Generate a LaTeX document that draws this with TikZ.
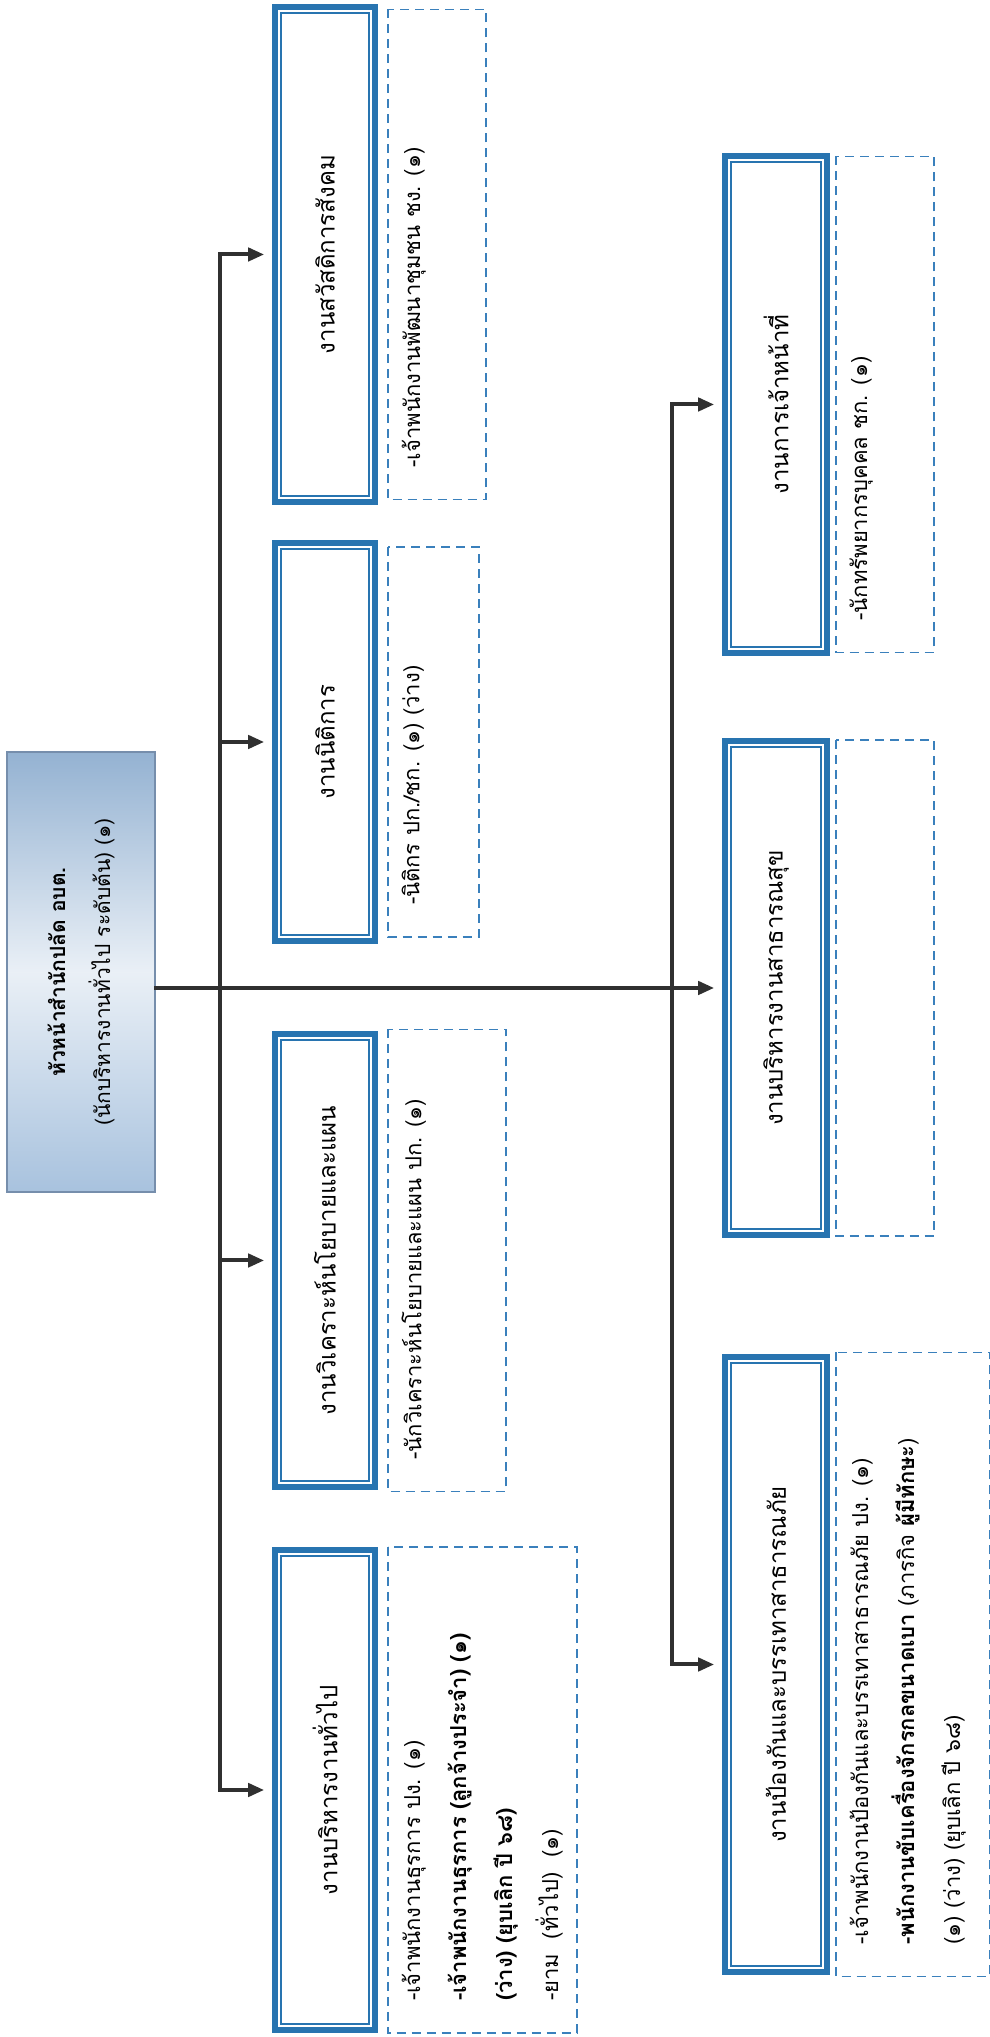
\documentclass[tikz,border=0pt]{standalone}
\usepackage{fontspec}
\setmainfont[Script=Thai]{Loma}
\usetikzlibrary{positioning,arrows.meta}

\definecolor{deptblue}{RGB}{40,116,176}
\definecolor{dashblue}{RGB}{58,128,188}
\definecolor{linkgray}{RGB}{48,48,48}
\definecolor{headtop}{RGB}{148,178,210}
\definecolor{headbot}{RGB}{168,194,222}
\definecolor{headedge}{RGB}{118,142,172}

\begin{document}
\begin{tikzpicture}[x=1pt, y=1pt, rotate=90, transform shape,
		head/.style={draw=headedge, line width=1.2pt, top color=headtop, bottom color=headbot, middle color=white!80!headtop,
			align=center, inner sep=0pt, font=\fontsize{21}{45}\selectfont},
		dept/.style={fill=white, draw=deptblue, line width=5.5pt, preaction={draw=deptblue, line width=14.5pt},
			postaction={draw=white, line width=2.5pt}, inner sep=0pt, font=\fontsize{24}{30}\selectfont},
		staff/.style 2 args={draw=dashblue, line width=1.8pt, dash pattern=on 9pt off 6pt, inner xsep=32pt, inner ysep=14pt,
			minimum width=#1pt, minimum height=#2pt, font=\fontsize{22}{46}\selectfont,
			execute at begin node={\begin{minipage}[c][\dimexpr#2pt-28pt\relax][t]{\dimexpr#1pt-64pt\relax}\raggedright},
			execute at end node={\end{minipage}}},
		link/.style={draw=linkgray, line width=4pt, line cap=rect},
		arr/.style={link, -{Triangle[length=16pt,width=13pt]}, shorten >=12pt}]
	\useasboundingbox (0, 0) rectangle (2037, 989);

	\node[head, minimum width=440pt, minimum height=148pt] (head) at (1065, 908)
		{\textbf{หัวหน้าสำนักปลัด อบต.}\\(นักบริหารงานทั่วไป ระดับต้น) (๑)};

	\node[dept, minimum width=487pt, minimum height=92pt] (welfare) at (1782.5, 664) {งานสวัสดิการสังคม};
	\node[dept, minimum width=390pt, minimum height=92pt] (legal) at (1295, 664) {งานนิติการ};
	\node[dept, minimum width=445pt, minimum height=92pt] (policy) at (776.5, 664) {งานวิเคราะห์นโยบายและแผน};
	\node[dept, minimum width=472pt, minimum height=92pt] (general) at (247, 664) {งานบริหารงานทั่วไป};

	\node[dept, minimum width=489pt, minimum height=94pt] (personnel) at (1632.5, 213) {งานการเจ้าหน้าที่};
	\node[dept, minimum width=486pt, minimum height=94pt] (pubhealth) at (1049, 213) {งานบริหารงานสาธารณสุข};
	\node[dept, minimum width=607pt, minimum height=94pt] (disaster) at (372.5, 213) {งานป้องกันและบรรเทาสาธารณภัย};

	\node[staff={490}{98}, below=13pt of welfare] (welfarestaff) {-เจ้าพนักงานพัฒนาชุมชน ชง. (๑)};
	\node[staff={390}{91}, below=13pt of legal] (legalstaff) {-นิติกร ปก./ชก. (๑) (ว่าง)};
	\node[staff={462}{118}, below=13pt of policy] (policystaff) {-นักวิเคราะห์นโยบายและแผน ปก. (๑)};
	\node[staff={486}{189}, below=13pt of general] (generalstaff)
		{-เจ้าพนักงานธุรการ ปง. (๑)\\
		\textbf{-เจ้าพนักงานธุรการ (ลูกจ้างประจำ) (๑)}\\
		\textbf{(ว่าง) (ยุบเลิก ปี ๖๘)}\\
		-ยาม \ (ทั่วไป) \ (๑)};

	\node[staff={496}{98}, below=9pt of personnel] (personnelstaff) {-นักทรัพยากรบุคคล ชก. (๑)};
	\node[staff={496}{98}, below=9pt of pubhealth] (pubhealthstaff) {\null};
	\node[staff={624}{154}, below=9pt of disaster] (disasterstaff)
		{-เจ้าพนักงานป้องกันและบรรเทาสาธารณภัย ปง. (๑)\\
		\textbf{-พนักงานขับเครื่องจักรกลขนาดเบา} (ภารกิจ \textbf{ผู้มีทักษะ})\\
		(๑) (ว่าง) (ยุบเลิก ปี ๖๘)};

	\coordinate (rowA) at (0, 769);
	\coordinate (rowB) at (0, 317);

	\draw[link] (welfare.north |- rowA) to (general.north |- rowA);
	\foreach \d in {welfare, legal, policy, general}
		\draw[arr] (\d.north |- rowA) to (\d.north);

	\draw[link] (personnel.north |- rowB) to (disaster.north |- rowB);
	\foreach \d in {personnel, disaster}
		\draw[arr] (\d.north |- rowB) to (\d.north);

	\draw[arr] (pubhealth.north |- head.south) to (pubhealth.north);
\end{tikzpicture}
\end{document}
